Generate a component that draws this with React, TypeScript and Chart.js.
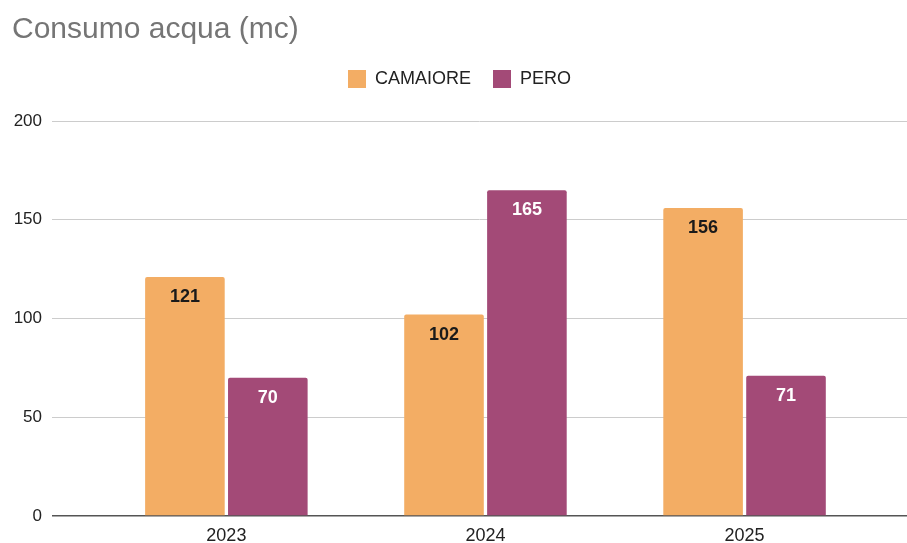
import React, { useEffect, useRef } from "react";
import { Chart, registerables } from "chart.js";

Chart.register(...registerables);

const categories = ["2023", "2024", "2025"];
const camaiore = [121, 102, 156];
const pero = [70, 165, 71];
const seriesNames = ["CAMAIORE", "PERO"];
const yTicks = [0, 50, 100, 150, 200];

const ORANGE = "#F3AD64";
const PURPLE = "#A34A77";
const FONT = "'Liberation Sans', Arial, sans-serif";

const barLabels = {
  id: "barLabels",
  afterDatasetsDraw(chart: any) {
    const ctx = chart.ctx;
    ctx.save();
    ctx.font = `bold 18px ${FONT}`;
    ctx.textAlign = "center";
    ctx.textBaseline = "middle";
    chart.data.datasets.forEach((ds: any, di: number) => {
      const meta = chart.getDatasetMeta(di);
      meta.data.forEach((bar: any, i: number) => {
        ctx.fillStyle = di === 0 ? "#1a1a1a" : "#ffffff";
        ctx.fillText(String(ds.data[i]), bar.x, bar.y + 20);
      });
    });
    ctx.restore();
  },
};

const legendSpace = {
  id: "legendSpace",
  beforeInit(chart: any) {
    const legend = chart.legend;
    if (!legend) return;
    const orig = legend.fit;
    legend.fit = function () {
      orig.call(this);
      this.height += 23;
    };
  },
};

export default function App() {
  const ref = useRef<HTMLCanvasElement>(null);
  useEffect(() => {
    document.body.style.margin = "0";
    const chart = new Chart(ref.current!, {
      type: "bar",
      data: {
        labels: categories,
        datasets: [
          {
            label: seriesNames[0],
            data: camaiore,
            backgroundColor: ORANGE,
            borderRadius: 2,
            borderSkipped: "bottom",
            categoryPercentage: 0.64,
            barPercentage: 0.96,
          },
          {
            label: seriesNames[1],
            data: pero,
            backgroundColor: PURPLE,
            borderRadius: 2,
            borderSkipped: "bottom",
            categoryPercentage: 0.64,
            barPercentage: 0.96,
          },
        ],
      },
      options: {
        animation: false,
        responsive: false,
        layout: { padding: { left: 12, right: 0, top: 0, bottom: 0 } },
        plugins: {
          title: {
            display: true,
            text: "Consumo acqua (mc)",
            align: "start",
            color: "#757575",
            font: { family: FONT, size: 30, weight: "normal" },
            padding: { top: 12, bottom: 0 },
          },
          legend: {
            display: true,
            position: "top",
            labels: {
              boxWidth: 18,
              boxHeight: 18,
              color: "#222",
              padding: 22,
              font: { family: FONT, size: 18 },
            },
          },
          tooltip: { enabled: false },
        },
        scales: {
          x: {
            grid: { display: false, drawTicks: false },
            border: { display: false },
            ticks: {
              color: "#222",
              padding: 9,
              font: { family: FONT, size: 18 },
            },
            afterBuildTicks: (scale: any) => {
              scale._startValue = -0.673;
              scale._valueRange = 3.3;
            },
            afterFit: (scale: any) => {
              scale.height = 27;
            },
          },
          y: {
            min: 0,
            max: 200,
            afterBuildTicks: (scale: any) => {
              scale.ticks = yTicks.map((v) => ({ value: v }));
            },
            afterFit: (scale: any) => {
              scale.width = 40;
            },
            border: { display: false },
            grid: {
              drawTicks: false,
              color: (c: any) => (c.tick && c.tick.value === 0 ? "#555" : "#cccccc"),
              lineWidth: (c: any) => (c.tick && c.tick.value === 0 ? 1.5 : 1),
            },
            ticks: {
              color: "#222",
              padding: 10,
              font: { family: FONT, size: 17 },
            },
          },
        },
      },
      plugins: [barLabels, legendSpace],
    });
    return () => chart.destroy();
  }, []);
  return (
    <div style={{ position: "absolute", left: 0, top: 0 }}>
      <canvas ref={ref} width={907} height={543} style={{ display: "block" }} />
    </div>
  );
}
